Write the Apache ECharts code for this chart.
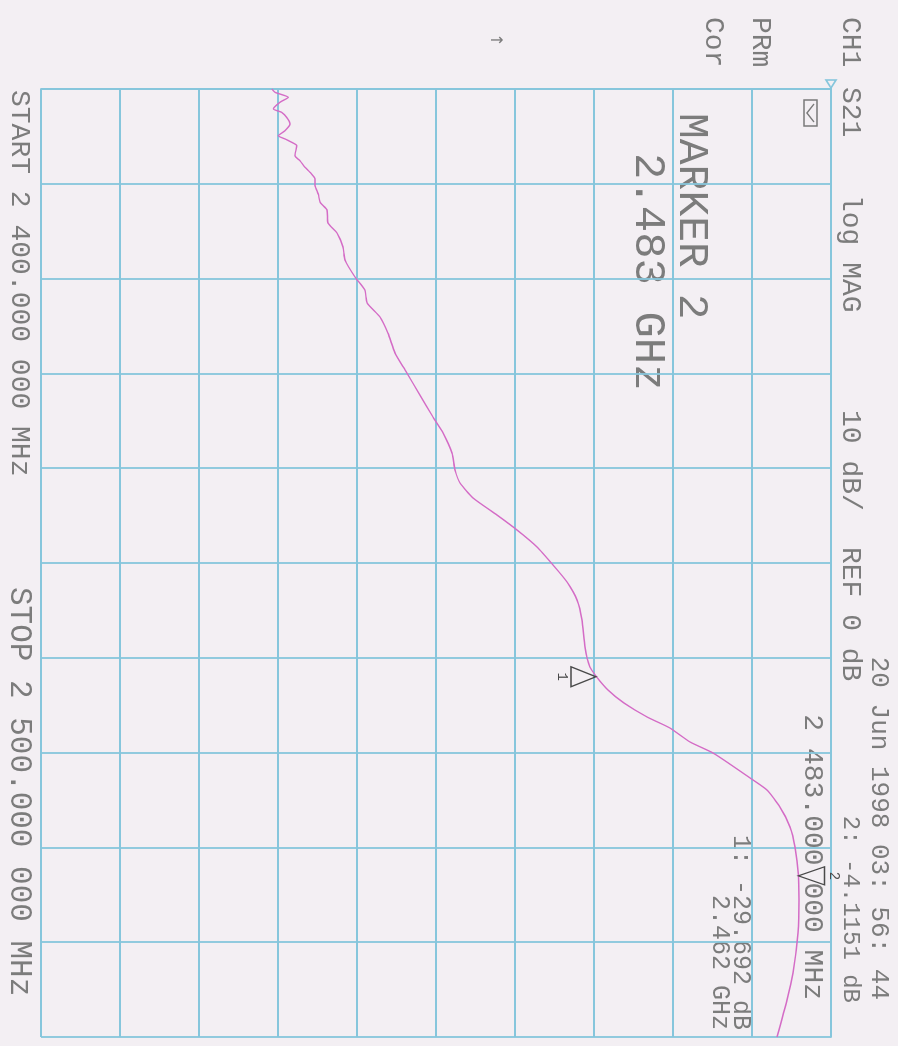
<!DOCTYPE html>
<html>
<head>
<meta charset="utf-8">
<script src="https://cdn.jsdelivr.net/npm/echarts@6/dist/echarts.min.js"></script>
<style>
  html, body { margin: 0; padding: 0; width: 898px; height: 1046px; overflow: hidden; background: #f3eff3; }
  /* The analyzer plot is laid out landscape and turned a quarter clockwise onto the page */
  #chart { position: absolute; left: 0; top: 0; width: 1046px; height: 898px;
           transform-origin: 0 0; transform: translate(898px, 0) rotate(90deg); }
</style>
</head>
<body>
<div id="chart"></div>
<script>
// S21 sweep, 2400 - 2500 MHz, log magnitude (dB)
const freqMHz = [2400.00, 2400.35, 2400.88, 2401.40, 2402.11, 2402.46, 2402.99, 2403.69, 2404.40, 2404.93,
  2405.27, 2405.62, 2405.98, 2407.04, 2407.57, 2408.26, 2408.79, 2409.49, 2410.20, 2411.08,
  2411.95, 2412.76, 2414.14, 2415.19, 2416.67, 2418.04, 2419.83, 2421.20, 2422.57, 2424.05,
  2425.74, 2427.85, 2429.64, 2432.28, 2434.60, 2436.29, 2438.40, 2440.19, 2441.56, 2443.14,
  2444.94, 2446.52, 2448.31, 2450.21, 2452.00, 2453.90, 2456.01, 2458.86, 2460.97, 2462.00,
  2463.40, 2464.77, 2466.24, 2467.41, 2468.88, 2470.04, 2472.68, 2473.95, 2475.74, 2477.85,
  2479.96, 2483.00, 2485.55, 2489.03, 2493.25, 2496.10, 2500.00];
const magDb = [-70.80, -70.38, -68.70, -69.75, -70.59, -69.53, -68.90, -68.48, -69.11, -69.96,
  -69.11, -68.27, -67.63, -67.85, -67.22, -66.58, -65.95, -65.32, -65.32, -64.90,
  -64.68, -63.80, -63.67, -62.53, -61.77, -61.52, -60.25, -58.99, -58.73, -57.09,
  -56.08, -55.19, -53.92, -52.03, -50.38, -49.11, -47.97, -47.59, -46.96, -45.32,
  -42.28, -39.75, -37.22, -35.19, -33.42, -32.15, -31.52, -31.14, -30.51, -29.692,
  -28.23, -26.20, -23.29, -20.38, -17.85, -14.94, -10.25, -8.10, -6.46, -5.19,
  -4.56, -4.1151, -4.05, -4.18, -4.81, -5.57, -6.84];

// Markers
const markerNames = ['1', '2'];
const markerFreqMHz = [2462, 2483];
const markerDb = [-29.692, -4.1151];

// Scale settings
const freqStart = 2400, freqStop = 2500, freqDiv = 10;
const refDb = 0, dbPerDiv = 10, dbBottom = -100;

// Annotation text
const headerLabels = ['CH1', 'S21', 'log MAG', '10 dB/', 'REF 0 dB'];
const dateLabel = '20 Jun 1998 03: 56: 44';
const activeMarkerValue = '2: -4.1151 dB';
const activeMarkerFreq = '2 483.000 000 MHz';
const deltaLabels = ['1: -29.692 dB', '2.462 GHz'];
const markerTitle = ['MARKER 2', '2.483 GHz'];
const sideLabels = ['PRm', 'Cor'];
const startLabel = 'START 2 400.000 000 MHz';
const stopLabel = 'STOP 2 500.000 000 MHz';

const GRID = '#86c6dc';
const TRACE = '#d46cc6';
const INK = '#7c7c7c';
const MONO = '"Liberation Mono", "DejaVu Sans Mono", monospace';

const chart = echarts.init(document.getElementById('chart'), null, { renderer: 'canvas' });

function txt(text, x, y, size, align, color) {
  return {
    type: 'text', x: x, y: y, silent: true,
    style: { text: text, fill: color || INK, font: size + 'px ' + MONO,
             align: align || 'left', verticalAlign: 'middle' }
  };
}

const headerX = [17, 87, 195, 410, 547];
const graphics = [];
headerLabels.forEach((t, i) => graphics.push(txt(t, headerX[i], 48, 28)));
graphics.push(txt(activeMarkerValue, 1003, 48, 24, 'right'));
graphics.push(txt(dateLabel, 1000, 19, 26, 'right'));
graphics.push(txt(activeMarkerFreq, 1000, 86, 28, 'right'));
graphics.push(txt(deltaLabels[0], 1030, 157, 25, 'right'));
graphics.push(txt(deltaLabels[1], 1030, 178, 25, 'right'));
graphics.push(txt(markerTitle[0], 113, 207, 43));
graphics.push(txt(markerTitle[1], 153, 250, 44));
graphics.push(txt(sideLabels[0], 17, 138, 28));
graphics.push(txt(sideLabels[1], 17, 185, 28));
graphics.push({ type: 'text', x: 40, y: 403, silent: true,
  style: { text: '↑', fill: INK, font: '16px "DejaVu Sans"', align: 'center', verticalAlign: 'middle' } });
graphics.push(txt(startLabel, 90, 879, 28));
graphics.push(txt(stopLabel, 587, 879, 31));
// small status box next to the reference line
graphics.push({ type: 'rect', x: 100, y: 81, silent: true, shape: { width: 26, height: 13 },
  style: { fill: 'none', stroke: '#7a7a7a', lineWidth: 1.5 } });
graphics.push({ type: 'polyline', silent: true,
  shape: { points: [[104, 84], [113, 91], [122, 84]] }, style: { stroke: '#7a7a7a', lineWidth: 1.5, fill: 'none' } });

const option = {
  backgroundColor: '#f3eff3',
  animation: false,
  grid: { left: 89, top: 67, width: 948, height: 790, containLabel: false },
  xAxis: {
    type: 'value', min: freqStart, max: freqStop, interval: freqDiv,
    axisLabel: { show: false }, axisTick: { show: false },
    axisLine: { show: true, lineStyle: { color: GRID, width: 1.8 } },
    splitLine: { show: true, lineStyle: { color: GRID, width: 1.8 } }
  },
  yAxis: {
    type: 'value', min: dbBottom, max: refDb, interval: dbPerDiv,
    axisLabel: { show: false }, axisTick: { show: false },
    axisLine: { show: true, lineStyle: { color: GRID, width: 1.8 } },
    splitLine: { show: true, lineStyle: { color: GRID, width: 1.8 } }
  },
  series: [{
    type: 'line',
    data: freqMHz.map((f, i) => [f, magDb[i]]),
    showSymbol: false,
    smooth: 0.2,
    lineStyle: { color: TRACE, width: 1.4 },
    z: 3,
    markPoint: {
      silent: true,
      itemStyle: { color: 'transparent', borderColor: '#4a4a4a', borderWidth: 1.4 },
      data: [
        { coord: [markerFreqMHz[0], markerDb[0]], symbol: 'path://M10,0 L20,25 L0,25 Z',
          symbolSize: [20, 25], symbolOffset: [0, 13],
          label: { show: true, formatter: markerNames[0], position: 'bottom', distance: 1,
                   color: '#4a4a4a', fontSize: 14, fontFamily: MONO } },
        { coord: [markerFreqMHz[1], markerDb[1]], symbol: 'path://M0,0 L20,0 L10,27 Z',
          symbolSize: [18, 26], symbolOffset: [0, -13],
          label: { show: true, formatter: markerNames[1], position: 'top', distance: 1,
                   color: '#4a4a4a', fontSize: 14, fontFamily: MONO } }
      ]
    }
  }],
  graphic: graphics
};
chart.setOption(option);

// reference-level pointer at the left edge of the grid
const ref = chart.convertToPixel({ gridIndex: 0 }, [freqStart, refDb]);
graphics.push({ type: 'polygon', silent: true,
  shape: { points: [[ref[0] - 9, ref[1] - 5], [ref[0] - 1, ref[1]], [ref[0] - 9, ref[1] + 5]] },
  style: { fill: 'none', stroke: GRID, lineWidth: 1.6 } });
graphics.push({ type: 'line', silent: true,
  shape: { x1: ref[0] - 2, y1: ref[1], x2: ref[0], y2: ref[1] }, style: { stroke: GRID, lineWidth: 1.8 } });
chart.setOption({ graphic: graphics });
</script>
</body>
</html>
